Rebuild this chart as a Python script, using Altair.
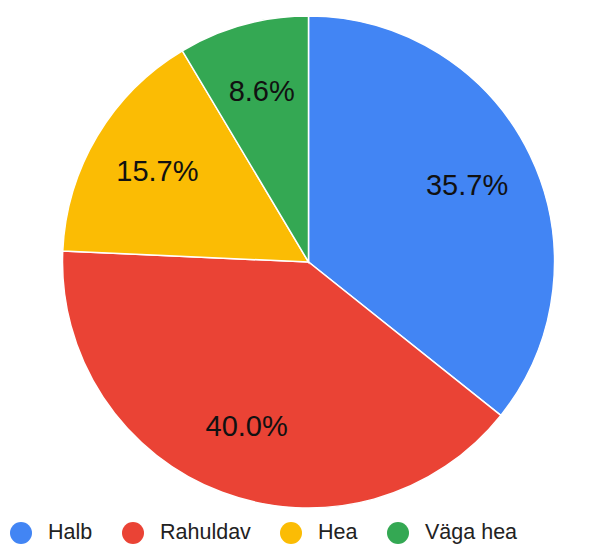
import altair as alt
import pandas as pd

categories = ["Halb", "Rahuldav", "Hea", "Väga hea"]
counts = [25, 28, 11, 6]
colors = ["#4285F4", "#EA4335", "#FBBC04", "#34A853"]

total = sum(counts)
df = pd.DataFrame({
    "cat": categories,
    "n": counts,
    "ord": list(range(len(categories))),
    "pct": [f"{100 * c / total:.1f}%" for c in counts],
})

base = alt.Chart(df).encode(
    theta=alt.Theta("n:Q", stack=True),
    order=alt.Order("ord:Q", sort="ascending"),
)

arcs = base.mark_arc(radius=246, stroke="white", strokeWidth=1.5).encode(
    x=alt.value(300.5),
    y=alt.value(254),
    color=alt.Color(
        "cat:N",
        scale=alt.Scale(domain=categories, range=colors),
        sort=categories,
        legend=alt.Legend(
            title=None,
            orient="none",
            legendX=2,
            legendY=514,
            direction="horizontal",
            symbolType="circle",
            symbolSize=484,
            symbolStrokeWidth=0,
            labelFontSize=21.5,
            labelFont="Liberation Sans",
            labelColor="#222222",
            labelOffset=16,
            columnPadding=29,
            padding=0,
        ),
    ),
)

labels = base.mark_text(
    radius=176, font="Liberation Sans", fontSize=29, color="#111111"
).encode(
    x=alt.value(300.5),
    y=alt.value(254),
    text="pct:N",
)

chart = (arcs + labels).properties(
    width=591, height=536, autosize=alt.AutoSizeParams(type="none"), padding=0
).configure_view(stroke=None)

chart.save("out.html", embed_options={"renderer": "svg", "actions": False})
